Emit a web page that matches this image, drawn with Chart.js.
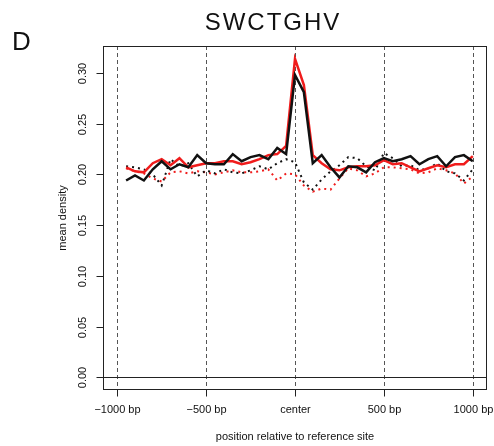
<!DOCTYPE html>
<html>
<head>
<meta charset="utf-8">
<style>
  html, body { margin: 0; padding: 0; background: #fff; }
  canvas { display: block; }
</style>
</head>
<body>
<canvas id="c" width="494" height="446"></canvas>
<script src="https://cdn.jsdelivr.net/npm/chart.js@4/dist/chart.umd.min.js"></script>
<script>
// Bin positions (bp relative to the reference site)
const positions = [
  -950, -900, -850, -800, -750, -700, -650, -600, -550, -500,
  -450, -400, -350, -300, -250, -200, -150, -100, -50, 0,
  50, 100, 150, 200, 250, 300, 350, 400, 450, 500,
  550, 600, 650, 700, 750, 800, 850, 900, 950, 1000
];

// Mean density profiles
const blackSolid = [
  0.194, 0.199, 0.194, 0.205, 0.213, 0.205, 0.210, 0.207, 0.219, 0.211,
  0.210, 0.210, 0.220, 0.213, 0.217, 0.219, 0.215, 0.226, 0.220, 0.298,
  0.281, 0.211, 0.219, 0.207, 0.197, 0.208, 0.207, 0.202, 0.212, 0.216,
  0.213, 0.215, 0.218, 0.210, 0.215, 0.218, 0.208, 0.217, 0.219, 0.213
];
const redSolid = [
  0.207, 0.203, 0.202, 0.211, 0.215, 0.209, 0.216, 0.207, 0.209, 0.211,
  0.211, 0.213, 0.213, 0.210, 0.212, 0.215, 0.219, 0.220, 0.228, 0.314,
  0.288, 0.219, 0.211, 0.205, 0.204, 0.207, 0.208, 0.208, 0.209, 0.214,
  0.210, 0.211, 0.207, 0.203, 0.206, 0.209, 0.207, 0.210, 0.210, 0.218
];
const blackDotted = [
  0.208, 0.207, 0.205, 0.200, 0.189, 0.215, 0.208, 0.211, 0.198, 0.204,
  0.201, 0.205, 0.202, 0.201, 0.204, 0.208, 0.205, 0.211, 0.215, 0.212,
  0.192, 0.185, 0.195, 0.203, 0.209, 0.217, 0.216, 0.208, 0.204, 0.221,
  0.216, 0.208, 0.209, 0.204, 0.206, 0.211, 0.203, 0.201, 0.194, 0.205
];
const redDotted = [
  0.206, 0.203, 0.201, 0.196, 0.193, 0.202, 0.203, 0.201, 0.203, 0.202,
  0.200, 0.202, 0.204, 0.202, 0.202, 0.203, 0.205, 0.194, 0.201, 0.200,
  0.189, 0.183, 0.186, 0.185, 0.196, 0.206, 0.204, 0.198, 0.201, 0.207,
  0.207, 0.206, 0.205, 0.201, 0.202, 0.206, 0.204, 0.201, 0.191, 0.198
];

// Axis ticks
const xTickValues = [-1000, -500, 0, 500, 1000];
const xTickLabels = ['\u22121000 bp', '\u2212500 bp', 'center', '500 bp', '1000 bp'];
const yTickValues = [0, 0.05, 0.10, 0.15, 0.20, 0.25, 0.30];
const yTickLabels = ['0.00', '0.05', '0.10', '0.15', '0.20', '0.25', '0.30'];

const panelLetter = 'D';
const mainTitle = 'SWCTGHV';
const xTitle = 'position relative to reference site';
const yTitle = 'mean density';

const RED = '#f01c1c';
const BLACK = '#111111';
const FONT = '"Liberation Sans", Arial, Helvetica, sans-serif';

const toPoints = vals => positions.map((p, i) => ({ x: p, y: vals[i] }));

// Base-graphics style frame: box, dashed guides, zero line, axes and titles
const frame = {
  id: 'frame',
  beforeDatasetsDraw(chart) {
    const { ctx, chartArea: a, scales: { x, y } } = chart;
    ctx.save();
    ctx.lineWidth = 1;
    ctx.strokeStyle = '#555';
    ctx.setLineDash([4, 3]);
    xTickValues.forEach(v => {
      const px = Math.round(x.getPixelForValue(v)) + 0.5;
      ctx.beginPath();
      ctx.moveTo(px, a.top);
      ctx.lineTo(px, a.bottom);
      ctx.stroke();
    });
    ctx.setLineDash([]);
    ctx.strokeStyle = '#222';
    const py0 = Math.round(y.getPixelForValue(0)) + 0.5;
    ctx.beginPath();
    ctx.moveTo(a.left, py0);
    ctx.lineTo(a.right, py0);
    ctx.stroke();
    ctx.restore();
  },
  afterDraw(chart) {
    const { ctx, chartArea: a, scales: { x, y } } = chart;
    ctx.save();
    ctx.lineWidth = 1;
    ctx.strokeStyle = '#222';
    ctx.strokeRect(Math.round(a.left) + 0.5, Math.round(a.top) + 0.5,
                   Math.round(a.width) - 1, Math.round(a.height) - 1);

    ctx.fillStyle = BLACK;
    ctx.font = '11px ' + FONT;

    // y axis
    const yTop = Math.round(y.getPixelForValue(yTickValues[yTickValues.length - 1])) + 0.5;
    const yBot = Math.round(y.getPixelForValue(yTickValues[0])) + 0.5;
    const axX = Math.round(a.left) + 0.5;
    ctx.beginPath();
    ctx.moveTo(axX, yTop);
    ctx.lineTo(axX, yBot);
    ctx.stroke();
    yTickValues.forEach((v, i) => {
      const py = Math.round(y.getPixelForValue(v)) + 0.5;
      ctx.beginPath();
      ctx.moveTo(axX - 7, py);
      ctx.lineTo(axX, py);
      ctx.stroke();
      ctx.save();
      ctx.translate(a.left - 20, py);
      ctx.rotate(-Math.PI / 2);
      ctx.textAlign = 'center';
      ctx.textBaseline = 'middle';
      ctx.fillText(yTickLabels[i], 0, 0);
      ctx.restore();
    });

    // x axis
    const axY = Math.round(a.bottom) - 0.5;
    xTickValues.forEach((v, i) => {
      const px = Math.round(x.getPixelForValue(v)) + 0.5;
      ctx.beginPath();
      ctx.moveTo(px, axY);
      ctx.lineTo(px, axY + 7);
      ctx.stroke();
      ctx.textAlign = 'center';
      ctx.textBaseline = 'middle';
      ctx.fillText(xTickLabels[i], px, a.bottom + 20);
    });

    // axis titles
    ctx.textAlign = 'center';
    ctx.textBaseline = 'middle';
    ctx.fillText(xTitle, (a.left + a.right) / 2, a.bottom + 47);
    ctx.save();
    ctx.translate(a.left - 40, (a.top + a.bottom) / 2);
    ctx.rotate(-Math.PI / 2);
    ctx.fillText(yTitle, 0, 0);
    ctx.restore();

    // main title and panel letter
    ctx.font = '24px ' + FONT;
    ctx.letterSpacing = '2px';
    ctx.textAlign = 'center';
    ctx.textBaseline = 'alphabetic';
    ctx.fillText(mainTitle, 273, 30);
    ctx.letterSpacing = '0px';
    ctx.font = '26px ' + FONT;
    ctx.textAlign = 'left';
    ctx.fillText(panelLetter, 12, 50);
    ctx.restore();
  }
};

new Chart(document.getElementById('c'), {
  type: 'line',
  data: {
    datasets: [
      { label: 'black', data: toPoints(blackSolid), borderColor: BLACK, borderWidth: 2.5, order: 0 },
      { label: 'red', data: toPoints(redSolid), borderColor: RED, borderWidth: 2.5, order: 1 },
      { label: 'black dotted', data: toPoints(blackDotted), borderColor: BLACK, borderWidth: 2, borderDash: [2, 4], order: 2 },
      { label: 'red dotted', data: toPoints(redDotted), borderColor: RED, borderWidth: 2, borderDash: [2, 4], order: 3 }
    ]
  },
  options: {
    responsive: false,
    animation: false,
    devicePixelRatio: 1,
    events: [],
    layout: { padding: { left: 103, right: 7, top: 46, bottom: 56 } },
    elements: {
      point: { radius: 0 },
      line: { tension: 0, fill: false, borderJoinStyle: 'miter', borderCapStyle: 'butt' }
    },
    scales: {
      x: { type: 'linear', min: -1080, max: 1080, display: false },
      y: { type: 'linear', min: -0.0126, max: 0.3266, display: false }
    },
    plugins: {
      legend: { display: false },
      tooltip: { enabled: false },
      title: { display: false }
    }
  },
  plugins: [frame]
});
</script>
</body>
</html>
